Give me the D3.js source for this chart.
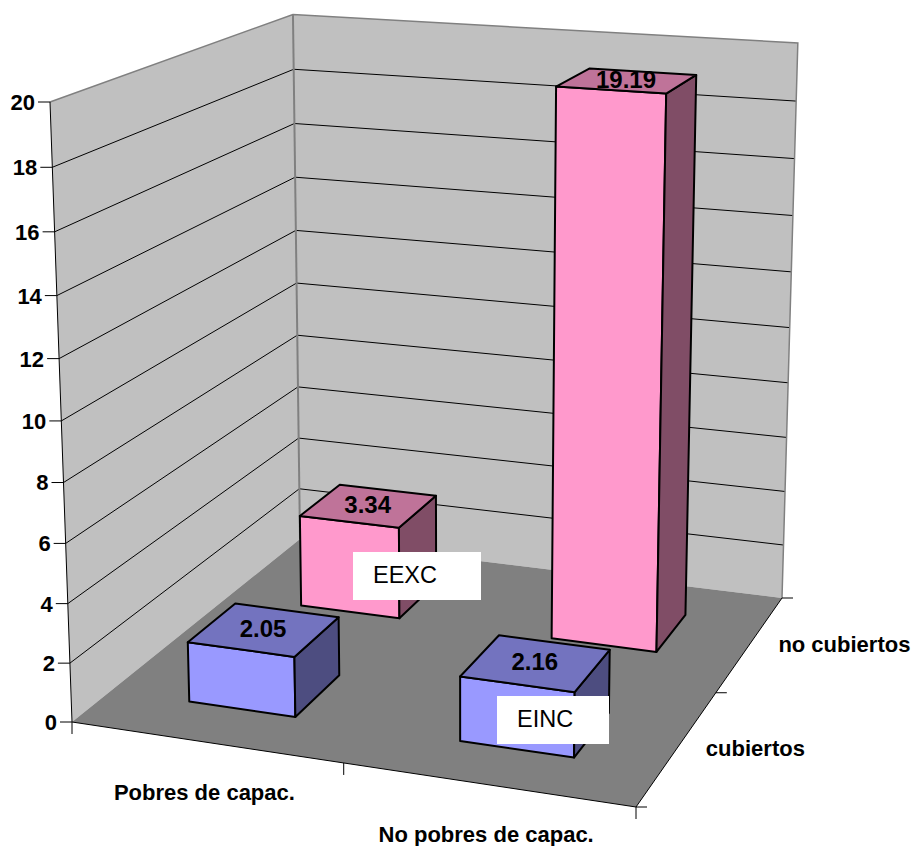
<!DOCTYPE html>
<html>
<head>
<meta charset="utf-8">
<script src="https://cdn.jsdelivr.net/npm/d3@7/dist/d3.min.js"></script>
<style>
html,body{margin:0;padding:0;background:#fff}
svg{display:block}
text{font-family:"Liberation Sans",Arial,sans-serif}
</style>
</head>
<body>
<svg id="chart" width="912" height="846"></svg>
<script>
// ---- data ----
const categories = ["Pobres de capac.", "No pobres de capac."];
const depthSeries = ["cubiertos", "no cubiertos"];
const cubiertosValues = [2.05, 2.16];
const noCubiertosValues = [3.34, 19.19];
const valueTicks = [0, 2, 4, 6, 8, 10, 12, 14, 16, 18, 20];
const seriesColors = ["#9999FF", "#FF99CC"];
const seriesValues = [cubiertosValues, noCubiertosValues];
const annotationTexts = ["EEXC", "EINC"];

// ---- projective frame of the 3D box (front-left floor, right, back, top corners) ----
const O = [72, 722], X100 = [636, 807], X110 = [782, 598], X010 = [300, 539], X001 = [50, 102];
const sx = O[0] - X100[0] + X110[0] - X010[0], sy = O[1] - X100[1] + X110[1] - X010[1];
const d1x = X100[0] - X110[0], d1y = X100[1] - X110[1], d2x = X010[0] - X110[0], d2y = X010[1] - X110[1];
const det = d1x * d2y - d2x * d1y;
const wa = (sx * d2y - d2x * sy) / det;
const wb = (d1x * sy - sx * d1y) / det;
const wc = -0.056;
const Bx = [X100[0] * (1 + wa) - O[0], X100[1] * (1 + wa) - O[1]];
const By = [X010[0] * (1 + wb) - O[0], X010[1] * (1 + wb) - O[1]];
const Bz = [X001[0] * (1 + wc) - O[0], X001[1] * (1 + wc) - O[1]];
function project(u, v, h) {
  const w = 1 + wa * u + wb * v + wc * h;
  return [(O[0] + Bx[0] * u + By[0] * v + Bz[0] * h) / w - 2 * u * h,
          (O[1] + Bx[1] * u + By[1] * v + Bz[1] * h) / w + 1 * u * h];
}

const uScale = d3.scaleBand().domain(categories).range([0, 1]).paddingInner(0.6).paddingOuter(0.3);
const vScale = d3.scaleBand().domain(depthSeries).range([0, 1]).paddingInner(0.6).paddingOuter(0.3);
const hScale = d3.scaleLinear().domain([0, 20]).range([0, 1]);

const svg = d3.select("#chart");
const line = d3.line();
const poly = pts => line(pts) + "Z";

const WALL = "#C0C0C0", FLOOR = "#808080", EDGE = "#808080";

// walls
svg.append("path").attr("d", poly([project(0,0,0), project(0,1,0), project(0,1,1), project(0,0,1)])).attr("fill", WALL);
svg.append("path").attr("d", poly([project(0,1,0), project(1,1,0), project(1,1,1), project(0,1,1)])).attr("fill", WALL);

// gridlines
const gridTicks = valueTicks.filter(t => t > 0 && t < 20);
svg.append("g").selectAll("path").data(gridTicks).join("path")
  .attr("d", t => line([project(0,0,hScale(t)), project(0,1,hScale(t)), project(1,1,hScale(t))]))
  .attr("fill", "none").attr("stroke", "#000").attr("stroke-width", 1);

// wall outlines
svg.append("path").attr("d", line([project(0,0,1), project(0,1,1), project(1,1,1), project(1,1,0)]))
  .attr("fill", "none").attr("stroke", EDGE).attr("stroke-width", 1.5);
svg.append("path").attr("d", line([project(0,1,0), project(0,1,1)]))
  .attr("fill", "none").attr("stroke", EDGE).attr("stroke-width", 2);

// floor
svg.append("path").attr("d", poly([project(0,0,0), project(1,0,0), project(1,1,0), project(0,1,0)])).attr("fill", FLOOR);
svg.append("path").attr("d", line([project(0,0,0), project(1,0,0), project(1,1,0)]))
  .attr("fill", "none").attr("stroke", "#000").attr("stroke-width", 1);
svg.append("path").attr("d", line([project(0,0,0), project(0,0,1)]))
  .attr("fill", "none").attr("stroke", "#000").attr("stroke-width", 1);

// value axis
const vt = svg.append("g").selectAll("g").data(valueTicks).join("g")
  .attr("transform", t => { const p = project(0,0,hScale(t)); return `translate(${p[0]},${p[1]})`; });
vt.append("line").attr("x1", -12).attr("x2", 0).attr("stroke", "#000").attr("stroke-width", 1);
vt.append("text").attr("x", -15).attr("dy", "0.36em").attr("text-anchor", "end")
  .attr("font-size", 22).attr("font-weight", "bold").text(d => d);

// category axis ticks
const uTicks = [0, 0.5, 1];
svg.append("g").selectAll("line").data(uTicks).join("line")
  .attr("x1", u => project(u,0,0)[0]).attr("y1", u => project(u,0,0)[1])
  .attr("x2", u => project(u,0,0)[0]).attr("y2", u => project(u,0,0)[1] + 12)
  .attr("stroke", "#000");
// depth axis ticks
svg.append("g").selectAll("line").data([0, 0.5, 1]).join("line")
  .attr("x1", v => project(1,v,0)[0]).attr("y1", v => project(1,v,0)[1])
  .attr("x2", v => project(1,v,0)[0] + 11).attr("y2", v => project(1,v,0)[1])
  .attr("stroke", "#000");

svg.append("g").selectAll("text").data(categories).join("text")
  .attr("x", c => project(uScale(c) + uScale.bandwidth() / 2, 0, 0)[0] - 1)
  .attr("y", c => project(uScale(c) + uScale.bandwidth() / 2, 0, 0)[1] + 57.5)
  .attr("text-anchor", "middle").attr("font-size", 22).attr("font-weight", "bold").text(c => c);
svg.append("g").selectAll("text").data(depthSeries).join("text")
  .attr("x", s => project(1, vScale(s) + vScale.bandwidth() / 2, 0)[0] + 28)
  .attr("y", s => project(1, vScale(s) + vScale.bandwidth() / 2, 0)[1] + 9)
  .attr("font-size", 22).attr("font-weight", "bold").text(s => s);

// bars, back to front
const bars = [];
depthSeries.forEach((s, si) => categories.forEach((c, ci) => {
  bars.push({ u0: uScale(c), u1: uScale(c) + uScale.bandwidth(),
              v0: vScale(s), v1: vScale(s) + vScale.bandwidth(),
              value: seriesValues[si][ci], color: seriesColors[si] });
}));
bars.sort((a, b) => b.v0 - a.v0 || a.u0 - b.u0);

const shade = (col, k) => { const c = d3.rgb(col); return d3.rgb(c.r * k, c.g * k, c.b * k).formatHex(); };
const barG = svg.append("g").selectAll("g").data(bars).join("g")
  .attr("stroke", "#000").attr("stroke-width", 2).attr("stroke-linejoin", "round");
barG.append("path").attr("fill", d => d.color)
  .attr("d", d => { const h = hScale(d.value); return poly([project(d.u0,d.v0,0), project(d.u1,d.v0,0), project(d.u1,d.v0,h), project(d.u0,d.v0,h)]); });
barG.append("path").attr("fill", d => shade(d.color, 0.5))
  .attr("d", d => { const h = hScale(d.value); return poly([project(d.u1,d.v0,0), project(d.u1,d.v1,0), project(d.u1,d.v1,h), project(d.u1,d.v0,h)]); });
barG.append("path").attr("fill", d => shade(d.color, 0.75))
  .attr("d", d => { const h = hScale(d.value); return poly([project(d.u0,d.v0,h), project(d.u1,d.v0,h), project(d.u1,d.v1,h), project(d.u0,d.v1,h)]); });

// value labels
const labelX = d => project((d.u0 + d.u1) / 2, (d.v0 + d.v1) / 2, hScale(d.value))[0] - 1;
svg.append("g").selectAll("text").data(bars).join("text")
  .attr("x", labelX)
  .attr("y", d => project((d.u0 + d.u1) / 2, (d.v0 + d.v1) / 2, hScale(d.value))[1] + 7)
  .attr("text-anchor", "middle").attr("font-size", 24).attr("font-weight", "bold").attr("fill", "#000")
  .text(d => d.value.toFixed(2));

// annotation boxes
const annotationBoxes = [[353, 552, 128, 48, 373, 583], [497, 696, 112, 48, 517, 727]];
annotationTexts.forEach((t, i) => {
  const b = annotationBoxes[i];
  svg.append("rect").attr("x", b[0]).attr("y", b[1]).attr("width", b[2]).attr("height", b[3]).attr("fill", "#fff");
  svg.append("text").attr("x", b[4]).attr("y", b[5]).attr("font-size", 23.5).attr("fill", "#000").text(t);
});
</script>
</body>
</html>
